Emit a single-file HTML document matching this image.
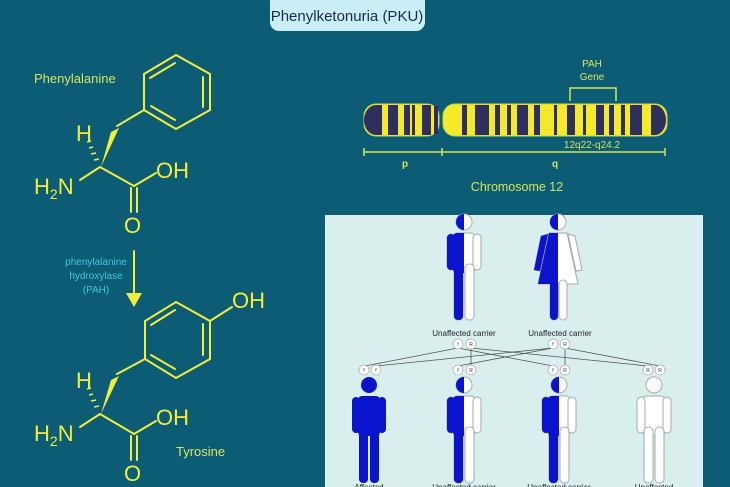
<!DOCTYPE html>
<html><head><meta charset="utf-8"><style>
html,body{margin:0;padding:0;background:#0b5c74;}
svg{display:block;font-family:"Liberation Sans",sans-serif;}
</style></head><body>
<svg width="730" height="487" viewBox="0 0 730 487" xmlns="http://www.w3.org/2000/svg">
<defs>
<g id="man">
 <circle cx="0" cy="8" r="8"/>
 <rect x="-11" y="19" width="22" height="40" rx="4"/>
 <rect x="-17" y="20" width="8" height="36" rx="4"/>
 <rect x="9" y="20" width="8" height="36" rx="4"/>
 <rect x="-10" y="50" width="9" height="56" rx="4"/>
 <rect x="1" y="50" width="9" height="56" rx="4"/>
</g>
<g id="woman">
 <circle cx="0" cy="8" r="8"/>
 <path d="M-9 19 H9 L20 70 H-20 Z"/>
 <path d="M-10 20 L-17 22 L-24 56 L-18 57 Z"/>
 <path d="M10 20 L17 22 L24 56 L18 57 Z"/>
 <rect x="-8" y="66" width="8" height="40" rx="4"/>
 <rect x="1" y="66" width="8" height="40" rx="4"/>
</g>
<clipPath id="lh"><rect x="-40" y="-5" width="40" height="130"/></clipPath>
</defs>

<!-- title -->
<rect x="270" y="-8" width="155" height="39" rx="9" fill="#c9eef6"/>
<text x="347" y="21" font-size="15" text-anchor="middle" fill="#1c2a4a">Phenylketonuria (PKU)</text>

<g stroke="#f2ee3a" stroke-width="2" fill="none" stroke-linecap="round">
 <!-- phenylalanine -->
 <polygon points="176,55 210,74 210,110 176,129 144,110 144,74"/>
 <line x1="150" y1="78" x2="175" y2="63"/><line x1="203" y1="77" x2="203" y2="107"/><line x1="151" y1="106" x2="175" y2="120"/>
 <line x1="144" y1="110" x2="117" y2="126"/>
 <line x1="100" y1="167" x2="80" y2="180"/>
 <line x1="100" y1="167" x2="134" y2="186"/>
 <line x1="134" y1="186" x2="156" y2="173"/>
 <line x1="131" y1="188" x2="131" y2="212"/><line x1="137" y1="188" x2="137" y2="212"/>
 <!-- tyrosine -->
 <polygon points="176,302 210,321 210,359 176,378 145,359 145,321"/>
 <line x1="151" y1="325" x2="175" y2="310"/><line x1="203" y1="324" x2="203" y2="355"/><line x1="151" y1="355" x2="175" y2="369"/>
 <line x1="210" y1="321" x2="232" y2="307"/>
 <line x1="145" y1="359" x2="117" y2="374"/>
 <line x1="100" y1="414" x2="80" y2="427"/>
 <line x1="100" y1="414" x2="134" y2="434"/>
 <line x1="134" y1="434" x2="156" y2="421"/>
 <line x1="131" y1="436" x2="131" y2="460"/><line x1="137" y1="436" x2="137" y2="460"/>
 <!-- arrow -->
 <line x1="134" y1="251" x2="134" y2="296"/>
</g>
<g fill="#f2ee3a">
 <polygon points="111,132 119,128 101,167"/>
 <polygon points="111,380 119,376 101,414"/>
 <polygon points="126,293 142,293 134,307"/>
 <g stroke="#f2ee3a" stroke-width="1.6">
  <line x1="87" y1="142" x2="91" y2="141"/><line x1="89" y1="148" x2="93" y2="147"/><line x1="91" y1="154" x2="96" y2="153"/><line x1="94" y1="160" x2="99" y2="159"/>
  <line x1="87" y1="389" x2="91" y2="388"/><line x1="89" y1="395" x2="93" y2="394"/><line x1="91" y1="401" x2="96" y2="400"/><line x1="94" y1="407" x2="99" y2="406"/>
 </g>
 <g font-size="22">
  <text x="76" y="141">H</text>
  <text x="34" y="194">H<tspan font-size="14" dy="5">2</tspan><tspan dy="-5">N</tspan></text>
  <text x="156" y="178">OH</text>
  <text x="124" y="233">O</text>
  <text x="232" y="308">OH</text>
  <text x="76" y="388">H</text>
  <text x="34" y="441">H<tspan font-size="14" dy="5">2</tspan><tspan dy="-5">N</tspan></text>
  <text x="156" y="425">OH</text>
  <text x="124" y="481">O</text>
 </g>
 <text x="34" y="83" font-size="13" fill="#d9e65a">Phenylalanine</text>
 <text x="176" y="456" font-size="13" fill="#d9e65a">Tyrosine</text>
</g>
<g font-size="10" fill="#3ec9e0" text-anchor="middle">
 <text x="96" y="265">phenylalanine</text>
 <text x="96" y="279">hydroxylase</text>
 <text x="96" y="293">(PAH)</text>
</g>

<!-- chromosome -->
<g stroke="#c9d84a" stroke-width="1">
 <rect x="364" y="104" width="75" height="32" rx="12" fill="#f5ea2a"/>
 <rect x="443" y="104" width="224" height="32" rx="12" fill="#f5ea2a"/>
</g>
<g fill="#2e2f5c">
 <path d="M376 105 H382 V135 H376 A12 15 0 0 1 376 105Z"/>
 <rect x="388" y="105" width="10" height="30"/><rect x="404" y="105" width="6" height="30"/>
 <rect x="412" y="105" width="3" height="30"/><rect x="422" y="105" width="9" height="30"/>
 <rect x="434" y="106" width="4" height="28"/>
 <rect x="462" y="105" width="5" height="30"/><rect x="475" y="105" width="14" height="30"/>
 <rect x="495" y="105" width="5" height="30"/><rect x="507" y="105" width="4" height="30"/>
 <rect x="517" y="105" width="11" height="30"/><rect x="534" y="105" width="6" height="30"/>
 <rect x="554" y="105" width="3" height="30"/><rect x="567" y="105" width="8" height="30"/>
 <rect x="583" y="105" width="3" height="30"/><rect x="596" y="105" width="8" height="30"/>
 <rect x="609" y="105" width="5" height="30"/><rect x="621" y="105" width="4" height="30"/>
 <rect x="630" y="105" width="12" height="30"/>
 <path d="M651 105 H655 A11 15 0 0 1 655 135 H651Z"/>
</g>
<g stroke="#d4e655" stroke-width="1.5" fill="none">
 <polyline points="570,101 570,88 616,88 616,101"/>
 <line x1="364" y1="152" x2="665" y2="152"/>
 <line x1="364" y1="148" x2="364" y2="156"/><line x1="442" y1="148" x2="442" y2="156"/><line x1="665" y1="148" x2="665" y2="156"/>
</g>
<g fill="#d4e655" text-anchor="middle" font-size="10">
 <text x="592" y="67">PAH</text><text x="592" y="80">Gene</text>
 <text x="592" y="148">12q22-q24.2</text>
 <text x="405" y="167" font-weight="bold">p</text>
 <text x="555" y="167" font-weight="bold">q</text>
 <text x="517" y="191" font-size="12.5">Chromosome 12</text>
</g>

<!-- panel -->
<rect x="325" y="215" width="378" height="280" fill="#d8efee"/>
<g stroke="#555" stroke-width="0.8" fill="none">
 <line x1="458" y1="348" x2="365" y2="366"/><line x1="458" y1="348" x2="553" y2="366"/>
 <line x1="471" y1="348" x2="471" y2="366"/><line x1="471" y1="348" x2="648" y2="366"/>
 <line x1="553" y1="348" x2="376" y2="366"/><line x1="553" y1="348" x2="458" y2="366"/>
 <line x1="565" y1="348" x2="565" y2="366"/><line x1="565" y1="348" x2="660" y2="366"/>
</g>
<g fill="#fff" stroke="#999" stroke-width="0.6">
 <circle cx="458" cy="344" r="5"/><circle cx="471" cy="344" r="5"/>
 <circle cx="553" cy="344" r="5"/><circle cx="565" cy="344" r="5"/>
 <circle cx="364" cy="370" r="5"/><circle cx="376" cy="370" r="5"/>
 <circle cx="458" cy="370" r="5"/><circle cx="471" cy="370" r="5"/>
 <circle cx="553" cy="370" r="5"/><circle cx="565" cy="370" r="5"/>
 <circle cx="648" cy="370" r="5"/><circle cx="660" cy="370" r="5"/>
</g>
<g font-size="5" fill="#333" text-anchor="middle">
 <text x="458" y="346">f</text><text x="471" y="346">R</text><text x="553" y="346">f</text><text x="565" y="346">R</text>
 <text x="364" y="372">f</text><text x="376" y="372">f</text><text x="458" y="372">f</text><text x="471" y="372">R</text>
 <text x="553" y="372">f</text><text x="565" y="372">R</text><text x="648" y="372">R</text><text x="660" y="372">R</text>
</g>

<!-- people -->
<g transform="translate(464,214)"><use href="#man" fill="#fff" stroke="#aaa" stroke-width="1"/><use href="#man" fill="#0a14cc" clip-path="url(#lh)"/></g>
<g transform="translate(558,214)"><use href="#woman" fill="#fff" stroke="#aaa" stroke-width="1"/><use href="#woman" fill="#0a14cc" clip-path="url(#lh)"/></g>
<g transform="translate(369,377)"><use href="#man" fill="#0a14cc"/></g>
<g transform="translate(464,377)"><use href="#man" fill="#fff" stroke="#aaa" stroke-width="1"/><use href="#man" fill="#0a14cc" clip-path="url(#lh)"/></g>
<g transform="translate(559,377)"><use href="#man" fill="#fff" stroke="#aaa" stroke-width="1"/><use href="#man" fill="#0a14cc" clip-path="url(#lh)"/></g>
<g transform="translate(654,377)"><use href="#man" fill="#fff" stroke="#aaa" stroke-width="1"/></g>

<g font-size="8" fill="#222" text-anchor="middle">
 <text x="464" y="336">Unaffected carrier</text>
 <text x="560" y="336">Unaffected carrier</text>
 <text x="369" y="490">Affected</text>
 <text x="464" y="490">Unaffected carrier</text>
 <text x="559" y="490">Unaffected carrier</text>
 <text x="654" y="490">Unaffected</text>
</g>
</svg>
</body></html>
